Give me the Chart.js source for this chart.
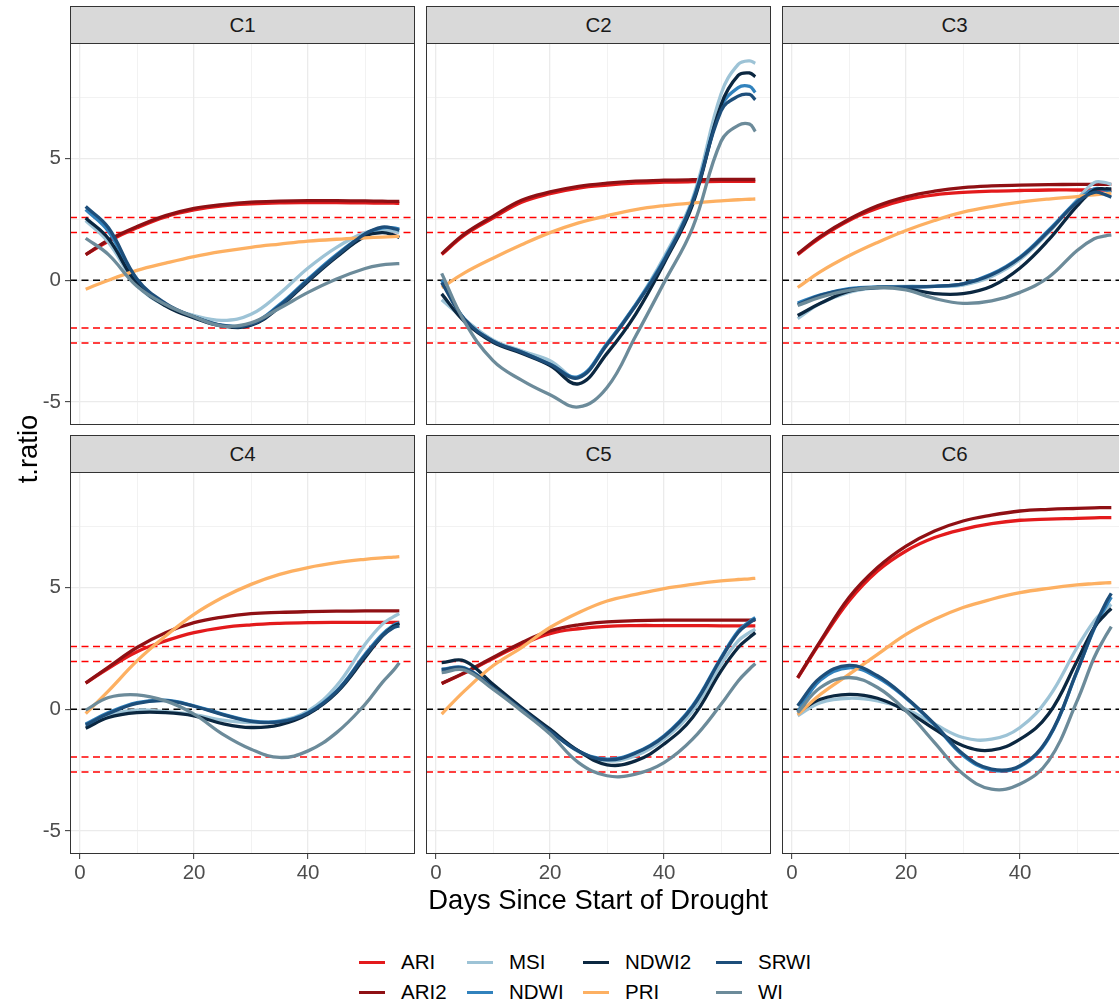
<!DOCTYPE html>
<html>
<head>
<meta charset="utf-8">
<script src="https://cdn.jsdelivr.net/npm/chart.js@4.4.1/dist/chart.umd.min.js"></script>
<style>
  html, body { margin: 0; padding: 0; background: #fff; overflow: hidden; }
  #fig { position: relative; width: 1119px; height: 1005px; overflow: hidden; font-family: "Liberation Sans", Arial, sans-serif; }
  #fig canvas { position: absolute; }
  .strip { position: absolute; box-sizing: border-box; background: #d9d9d9; border: 1px solid #333;
           color: #1a1a1a; font-size: 20.5px; text-align: center; }
  .key { position: absolute; width: 26px; height: 3px; }
  .lab { position: absolute; font-size: 20.5px; line-height: 24px; height: 24px; color: #000; white-space: nowrap; }
  .title { position: absolute; font-size: 27.4px; color: #000; white-space: nowrap; text-align: center; }
</style>
</head>
<body>
<div id="fig"></div>
<script>
// sampled days and the eight indices
const days = [1, 5, 10, 15, 20, 25, 30, 35, 40, 45, 50, 53, 55, 56];
const indices = ["ARI", "ARI2", "MSI", "NDWI", "NDWI2", "PRI", "SRWI", "WI"];
const panelNames = ["C1", "C2", "C3", "C4", "C5", "C6"];
const refLevels = [-2.576, -1.96, 0, 1.96, 2.576];
const xTickLabels = [0, 20, 40];
const yTickLabels = [-5, 0, 5];

// C1
const c1ARI   = [1.05, 1.6, 2.15, 2.6, 2.88, 3.05, 3.13, 3.17, 3.18, 3.18, 3.17, 3.16, 3.16, 3.15];
const c1ARI2  = [1.05, 1.65, 2.2, 2.65, 2.95, 3.1, 3.2, 3.24, 3.26, 3.26, 3.25, 3.24, 3.23, 3.23];
const c1MSI   = [2.45, 1.55, -0.2, -1.05, -1.45, -1.65, -1.4, -0.55, 0.5, 1.35, 1.95, 2.05, 2.0, 1.95];
const c1NDWI  = [2.9, 2.0, 0.0, -1.0, -1.5, -1.85, -1.8, -1.0, 0.05, 1.05, 1.9, 2.15, 2.15, 2.1];
const c1NDWI2 = [2.55, 1.7, -0.15, -1.05, -1.55, -1.88, -1.85, -1.1, -0.05, 0.95, 1.8, 1.95, 1.85, 1.75];
const c1PRI   = [-0.37, 0.0, 0.4, 0.7, 0.97, 1.18, 1.35, 1.48, 1.6, 1.68, 1.74, 1.77, 1.79, 1.8];
const c1SRWI  = [3.02, 2.15, 0.05, -0.95, -1.5, -1.85, -1.82, -1.05, 0.0, 1.0, 1.9, 2.18, 2.12, 2.05];
const c1WI    = [1.72, 1.05, -0.25, -1.0, -1.5, -1.88, -1.75, -1.15, -0.5, 0.05, 0.48, 0.63, 0.67, 0.68];
// C2
const c2ARI   = [1.05, 1.85, 2.55, 3.2, 3.55, 3.78, 3.9, 3.98, 4.02, 4.04, 4.05, 4.05, 4.05, 4.05];
const c2ARI2  = [1.08, 1.9, 2.62, 3.28, 3.62, 3.85, 3.98, 4.06, 4.1, 4.12, 4.13, 4.13, 4.13, 4.13];
const c2MSI   = [-0.8, -1.6, -2.45, -2.9, -3.3, -4.0, -2.6, -1.0, 0.95, 3.35, 7.65, 8.85, 9.0, 8.9];
const c2NDWI  = [0.0, -1.6, -2.5, -2.95, -3.45, -3.95, -2.6, -1.0, 0.85, 3.25, 7.1, 7.9, 7.95, 7.7];
const c2NDWI2 = [-0.56, -1.7, -2.55, -3.0, -3.5, -4.25, -3.0, -1.4, 0.7, 3.1, 7.2, 8.4, 8.5, 8.35];
const c2PRI   = [-0.3, 0.3, 0.9, 1.45, 1.95, 2.35, 2.65, 2.9, 3.06, 3.17, 3.25, 3.3, 3.32, 3.33];
const c2SRWI  = [-0.1, -1.6, -2.5, -2.95, -3.45, -4.0, -2.65, -1.05, 0.8, 3.2, 6.95, 7.55, 7.62, 7.4];
const c2WI    = [0.28, -1.7, -3.3, -4.1, -4.7, -5.2, -4.4, -2.3, -0.1, 2.15, 5.7, 6.35, 6.4, 6.1];
// C3
const c3ARI   = [1.05, 1.75, 2.45, 2.95, 3.3, 3.5, 3.6, 3.65, 3.68, 3.7, 3.7, 3.7, 3.7, 3.7];
const c3ARI2  = [1.08, 1.8, 2.5, 3.05, 3.42, 3.65, 3.8, 3.87, 3.9, 3.92, 3.93, 3.93, 3.93, 3.93];
const c3MSI   = [-1.58, -0.95, -0.5, -0.3, -0.25, -0.25, -0.2, 0.15, 0.85, 1.95, 3.3, 4.0, 4.0, 3.92];
const c3NDWI  = [-0.94, -0.6, -0.35, -0.28, -0.28, -0.25, -0.15, 0.25, 0.95, 2.05, 3.25, 3.75, 3.7, 3.6];
const c3NDWI2 = [-1.45, -0.95, -0.45, -0.3, -0.35, -0.55, -0.55, -0.25, 0.5, 1.65, 3.05, 3.7, 3.75, 3.74];
const c3PRI   = [-0.3, 0.35, 1.0, 1.55, 2.04, 2.45, 2.79, 3.02, 3.2, 3.33, 3.43, 3.5, 3.54, 3.57];
const c3SRWI  = [-1.0, -0.62, -0.38, -0.3, -0.28, -0.25, -0.15, 0.22, 0.92, 2.0, 3.2, 3.6, 3.5, 3.4];
const c3WI    = [-1.04, -0.7, -0.42, -0.3, -0.4, -0.75, -0.95, -0.85, -0.5, 0.12, 1.22, 1.7, 1.82, 1.86];
// C4
const c4ARI   = [1.07, 1.68, 2.36, 2.8, 3.14, 3.35, 3.46, 3.52, 3.55, 3.56, 3.56, 3.56, 3.56, 3.56];
const c4ARI2  = [1.07, 1.73, 2.53, 3.14, 3.55, 3.78, 3.92, 3.97, 4.0, 4.02, 4.03, 4.03, 4.03, 4.03];
const c4MSI   = [-0.7, -0.25, -0.04, -0.1, -0.22, -0.45, -0.55, -0.48, -0.07, 0.96, 2.66, 3.48, 3.8, 3.92];
const c4NDWI  = [-0.61, -0.14, 0.27, 0.37, 0.14, -0.2, -0.48, -0.5, -0.14, 0.75, 2.25, 3.07, 3.45, 3.55];
const c4NDWI2 = [-0.78, -0.34, -0.14, -0.14, -0.27, -0.59, -0.75, -0.64, -0.2, 0.68, 2.12, 3.0, 3.4, 3.51];
const c4PRI   = [-0.18, 0.75, 1.98, 3.0, 3.89, 4.58, 5.12, 5.53, 5.81, 6.01, 6.15, 6.21, 6.24, 6.26];
const c4SRWI  = [-0.65, -0.18, 0.24, 0.35, 0.12, -0.22, -0.5, -0.52, -0.16, 0.72, 2.2, 3.0, 3.35, 3.42];
const c4WI    = [-0.04, 0.48, 0.59, 0.34, -0.2, -1.02, -1.64, -1.98, -1.71, -0.96, 0.2, 1.09, 1.6, 1.91];
// C5
const c5ARI   = [1.05, 1.48, 2.08, 2.65, 3.1, 3.3, 3.4, 3.43, 3.43, 3.43, 3.42, 3.42, 3.42, 3.42];
const c5ARI2  = [1.05, 1.5, 2.12, 2.73, 3.21, 3.46, 3.58, 3.63, 3.65, 3.65, 3.65, 3.65, 3.65, 3.65];
const c5MSI   = [1.6, 1.65, 0.85, -0.02, -0.85, -1.75, -2.12, -1.91, -1.23, -0.07, 1.84, 2.8, 3.15, 3.28];
const c5NDWI  = [1.64, 1.7, 0.89, 0.0, -0.89, -1.71, -2.05, -1.78, -1.09, 0.14, 2.12, 3.21, 3.6, 3.76];
const c5NDWI2 = [1.91, 1.98, 1.02, 0.07, -0.82, -1.71, -2.28, -2.12, -1.43, -0.34, 1.57, 2.53, 2.95, 3.14];
const c5PRI   = [-0.2, 0.75, 1.78, 2.53, 3.35, 3.96, 4.44, 4.71, 4.95, 5.12, 5.26, 5.32, 5.35, 5.37];
const c5SRWI  = [1.62, 1.68, 0.88, 0.0, -0.9, -1.72, -2.08, -1.8, -1.12, 0.1, 2.08, 3.15, 3.55, 3.7];
const c5WI    = [1.5, 1.6, 0.82, -0.07, -1.02, -2.19, -2.73, -2.66, -2.19, -1.23, 0.2, 1.16, 1.65, 1.87];
// C6
const c6ARI   = [1.28, 2.75, 4.44, 5.67, 6.49, 7.04, 7.38, 7.61, 7.75, 7.8, 7.83, 7.85, 7.86, 7.86];
const c6ARI2  = [1.3, 2.8, 4.58, 5.81, 6.69, 7.31, 7.72, 7.96, 8.13, 8.2, 8.24, 8.26, 8.27, 8.27];
const c6MSI   = [-0.27, 0.27, 0.45, 0.34, 0.0, -0.61, -1.16, -1.23, -0.75, 0.48, 2.53, 3.62, 4.1, 4.3];
const c6NDWI  = [-0.1, 1.2, 1.7, 1.3, 0.45, -0.65, -1.9, -2.5, -2.35, -1.2, 1.55, 3.3, 4.2, 4.6];
const c6NDWI2 = [-0.14, 0.41, 0.61, 0.45, -0.07, -0.82, -1.5, -1.68, -1.23, -0.2, 1.98, 3.35, 3.9, 4.13];
const c6PRI   = [-0.23, 0.61, 1.43, 2.25, 3.07, 3.69, 4.17, 4.51, 4.78, 4.96, 5.1, 5.15, 5.18, 5.19];
const c6SRWI  = [0.14, 1.3, 1.8, 1.37, 0.48, -0.61, -1.84, -2.46, -2.32, -1.16, 1.57, 3.35, 4.35, 4.75];
const c6WI    = [-0.14, 0.89, 1.3, 0.89, -0.07, -1.37, -2.66, -3.28, -3.07, -2.12, 0.34, 2.12, 3.0, 3.39];

const panelData = [
  [c1ARI, c1ARI2, c1MSI, c1NDWI, c1NDWI2, c1PRI, c1SRWI, c1WI],
  [c2ARI, c2ARI2, c2MSI, c2NDWI, c2NDWI2, c2PRI, c2SRWI, c2WI],
  [c3ARI, c3ARI2, c3MSI, c3NDWI, c3NDWI2, c3PRI, c3SRWI, c3WI],
  [c4ARI, c4ARI2, c4MSI, c4NDWI, c4NDWI2, c4PRI, c4SRWI, c4WI],
  [c5ARI, c5ARI2, c5MSI, c5NDWI, c5NDWI2, c5PRI, c5SRWI, c5WI],
  [c6ARI, c6ARI2, c6MSI, c6NDWI, c6NDWI2, c6PRI, c6SRWI, c6WI],
];

const colors = ["#E31A1C", "#8F1014", "#9DC3D6", "#3182BD", "#0B2740", "#FDB062", "#1D4E7A", "#6C8B9A"];
const FONT = '"Liberation Sans", Arial, sans-serif';

// layout of the facet grid
const X_MIN = -1.75, X_MAX = 58.75;
const Y_MIN = -5.94, Y_MAX = 9.73;
const colX = [70, 426, 782];
const rowY = [43, 472];
const PW = 345, PH = 382;
const fig = document.getElementById("fig");

const frame = {
  id: "frame",
  afterDraw(chart) {
    const { ctx, chartArea: a } = chart;
    ctx.save();
    ctx.strokeStyle = "#333";
    ctx.lineWidth = 1;
    ctx.strokeRect(a.left + 0.5, a.top + 0.5, a.width - 1, a.height - 1);
    ctx.restore();
  },
};

function makePanel(p) {
  const col = p % 3, row = Math.floor(p / 3);
  const leftCol = col === 0, bottomRow = row === 1;
  const axisW = leftCol ? 70 : 0;
  const axisH = bottomRow ? 40 : 0;

  const strip = document.createElement("div");
  strip.className = "strip";
  Object.assign(strip.style, {
    left: colX[col] + "px", top: rowY[row] - 37 + "px",
    width: PW + "px", height: "38px", lineHeight: "36px",
  });
  strip.textContent = panelNames[p];
  fig.appendChild(strip);

  const cv = document.createElement("canvas");
  cv.width = PW + axisW;
  cv.height = PH + axisH;
  cv.style.left = colX[col] - axisW + "px";
  cv.style.top = rowY[row] + "px";
  fig.appendChild(cv);

  const lines = panelData[p].map((vals, i) => ({
    label: indices[i],
    data: days.map((d, k) => ({ x: d, y: vals[k] })),
    borderColor: colors[i],
    borderWidth: 3.3,
    pointRadius: 0,
    tension: 0.4,
    borderCapStyle: "butt",
    fill: false,
    order: 7 - i,
  }));
  const refs = refLevels.map((v) => ({
    label: "ref" + v,
    data: [{ x: X_MIN, y: v }, { x: X_MAX, y: v }],
    borderColor: v === 0 ? "#000000" : "#FF0000",
    borderWidth: 1.5,
    borderDash: [7, 4.5],
    pointRadius: 0,
    fill: false,
    order: 20,
  }));

  new Chart(cv, {
    type: "line",
    data: { datasets: [...lines, ...refs] },
    options: {
      responsive: false,
      animation: false,
      devicePixelRatio: 1,
      events: [],
      layout: { padding: 0 },
      plugins: { legend: { display: false }, tooltip: { enabled: false } },
      scales: {
        x: {
          type: "linear", min: X_MIN, max: X_MAX,
          border: { display: false },
          ticks: {
            display: bottomRow, stepSize: 10, includeBounds: false, autoSkip: false, maxRotation: 0,
            padding: 2, color: "#4d4d4d", font: { size: 20.5, family: FONT },
            callback: (v) => (xTickLabels.includes(v) ? String(v) : ""),
          },
          grid: {
            color: "#ebebeb",
            lineWidth: (c) => (c.tick && c.tick.value % 20 === 0 ? 1.3 : 0.65),
            drawTicks: bottomRow, tickLength: 5, tickWidth: 1,
            tickColor: (c) => (c.tick && xTickLabels.includes(c.tick.value) ? "#333" : "rgba(0,0,0,0)"),
          },
          afterFit: (s) => { s.height = axisH; s.paddingLeft = 0; s.paddingRight = 0; },
        },
        y: {
          type: "linear", min: Y_MIN, max: Y_MAX,
          border: { display: false },
          ticks: {
            display: leftCol, stepSize: 2.5, includeBounds: false, autoSkip: false,
            padding: 4, color: "#4d4d4d", font: { size: 20.5, family: FONT },
            callback: (v) => (yTickLabels.includes(v) ? String(v) : ""),
          },
          grid: {
            color: "#ebebeb",
            lineWidth: (c) => (c.tick && c.tick.value % 5 === 0 ? 1.3 : 0.65),
            drawTicks: leftCol, tickLength: 5, tickWidth: 1,
            tickColor: (c) => (c.tick && yTickLabels.includes(c.tick.value) ? "#333" : "rgba(0,0,0,0)"),
          },
          afterFit: (s) => { s.width = axisW; s.paddingTop = 0; s.paddingBottom = 0; },
        },
      },
    },
    plugins: [frame],
  });
}

panelNames.forEach((_, p) => makePanel(p));

// axis titles
const xt = document.createElement("div");
xt.className = "title";
Object.assign(xt.style, { left: "298px", width: "600px", top: "885px", lineHeight: "30px" });
xt.textContent = "Days Since Start of Drought";
fig.appendChild(xt);

const yt = document.createElement("div");
yt.className = "title";
Object.assign(yt.style, { left: "-72px", top: "434px", width: "200px", lineHeight: "30px", transform: "rotate(-90deg)" });
yt.textContent = "t.ratio";
fig.appendChild(yt);

// legend: 4 columns x 2 rows, filled by column
const legKeyX = [359, 467, 583, 716];
const legRowY = [962, 992];
indices.forEach((name, i) => {
  const c = Math.floor(i / 2), r = i % 2;
  const key = document.createElement("div");
  key.className = "key";
  Object.assign(key.style, { left: legKeyX[c] + "px", top: legRowY[r] - 1.5 + "px", background: colors[i] });
  fig.appendChild(key);
  const lab = document.createElement("div");
  lab.className = "lab";
  Object.assign(lab.style, { left: legKeyX[c] + 42 + "px", top: legRowY[r] - 12 + "px" });
  lab.textContent = name;
  fig.appendChild(lab);
});
</script>
</body>
</html>
